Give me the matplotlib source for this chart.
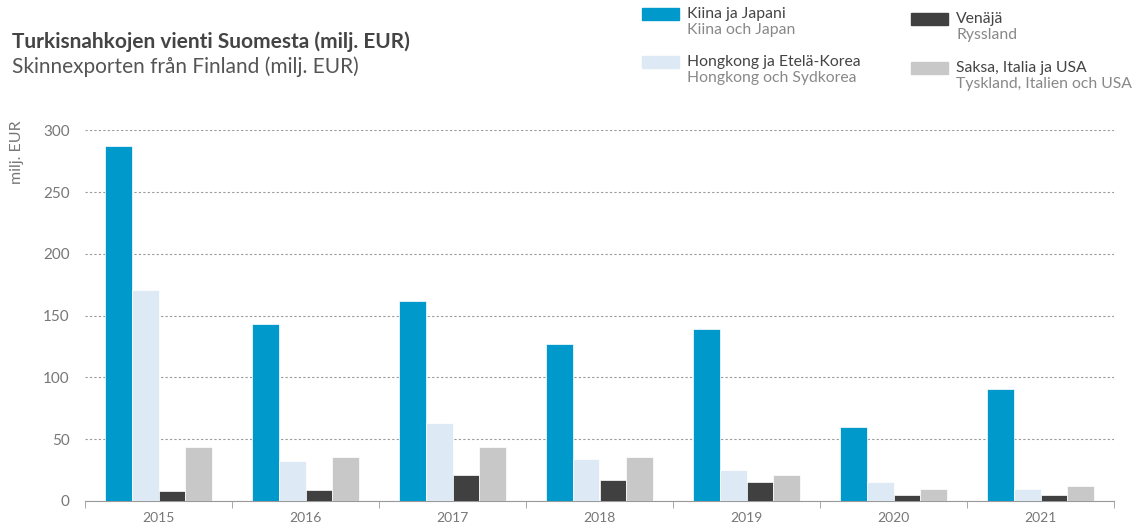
import numpy as np
import matplotlib.pyplot as plt
from matplotlib.patches import Rectangle

plt.rcParams['font.family'] = ['Lato', 'DejaVu Sans']

# Data (milj. EUR)
years = ['2015', '2016', '2017', '2018', '2019', '2020', '2021']
kiina_japani = [287, 143, 162, 127, 139, 60, 91]
hongkong_korea = [171, 32, 63, 34, 25, 15, 10]
venaja = [8, 9, 21, 17, 15, 5, 5]
saksa_italia_usa = [44, 36, 44, 36, 21, 10, 12]

series = [kiina_japani, hongkong_korea, venaja, saksa_italia_usa]
names_fi = ['Kiina ja Japani', 'Hongkong ja Etelä-Korea', 'Venäjä', 'Saksa, Italia ja USA']
names_sv = ['Kiina och Japan', 'Hongkong och Sydkorea', 'Ryssland', 'Tyskland, Italien och USA']
colors = ['#0099cc', '#dde9f5', '#404040', '#c8c8c8']

fig = plt.figure(figsize=(11.34, 5.27), dpi=100)
ax = fig.add_axes([85/1134, 26/527, 1029/1134, 370.7/527])

x = np.arange(len(years))
w = 0.182
for i, vals in enumerate(series):
    ax.bar(x + (i - 1.5) * w, vals, width=w, color=colors[i],
           edgecolor='white', linewidth=0.5, zorder=3)

ax.set_xlim(-0.5, len(years) - 0.5)
ax.set_ylim(0, 300)
ax.set_yticks(np.arange(0, 301, 50))
ax.grid(axis='y', linestyle=(0, (2, 2)), color='#999999', linewidth=0.8, zorder=0)

for s in ['top', 'right', 'left']:
    ax.spines[s].set_visible(False)
ax.spines['bottom'].set_color('#999999')

ax.set_xticks(x)
ax.set_xticklabels(years)
ax.set_xticks(np.arange(-0.5, len(years), 1), minor=True)
ax.tick_params(axis='x', which='major', length=0, pad=8, labelsize=10, labelcolor='#777777')
ax.tick_params(axis='x', which='minor', length=5, color='#999999', direction='out')
ax.tick_params(axis='y', length=0, pad=11, labelsize=11, labelcolor='#777777')

fig.text(17/1134, 1 - 152/527, 'milj. EUR', rotation=90, ha='center', va='center',
         fontsize=11.5, color='#777777')

# titles
fig.text(12/1134, 1 - 42/527, 'Turkisnahkojen vienti Suomesta (milj. EUR)',
         fontsize=15, fontweight='bold', color='#444444', va='center')
fig.text(12/1134, 1 - 67/527, 'Skinnexporten från Finland (milj. EUR)',
         fontsize=15, color='#555555', va='center')

# legend
leg_pos = [(642, 14), (642, 62), (911, 19), (911, 68)]
for (lx, ly), c, fi, sv in zip(leg_pos, colors, names_fi, names_sv):
    fig.patches.append(Rectangle((lx/1134, 1 - (ly + 6)/527), 37/1134, 12/527,
                                 transform=fig.transFigure, color=c))
    fig.text((lx + 45)/1134, 1 - ly/527, fi, fontsize=11.3, color='#444444', va='center')
    fig.text((lx + 45)/1134, 1 - (ly + 16)/527, sv, fontsize=11.3, color='#888888', va='center')

fig.savefig('out.png', dpi=100)
